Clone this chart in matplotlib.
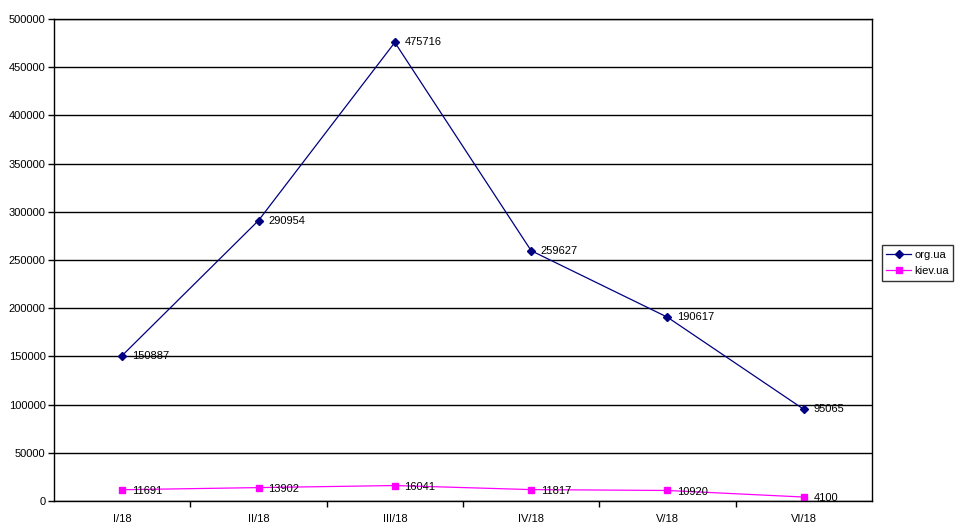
import matplotlib
matplotlib.use("Agg")
import matplotlib.pyplot as plt
from matplotlib.ticker import MultipleLocator

plt.rcParams['font.family'] = ['Liberation Sans', 'DejaVu Sans']

# quarters / data
quarters = ['I/18', 'II/18', 'III/18', 'IV/18', 'V/18', 'VI/18']
org_ua = [150887, 290954, 475716, 259627, 190617, 95065]
kiev_ua = [11691, 13902, 16041, 11817, 10920, 4100]

fig = plt.figure(figsize=(9.59, 5.26), dpi=100)
ax = fig.add_axes([54 / 959, 25 / 526, 818 / 959, 482 / 526])

x = list(range(len(quarters)))
ax.plot(x, org_ua, color='#000080', lw=0.9, marker='D', ms=4, label='org.ua')
ax.plot(x, kiev_ua, color='#FF00FF', lw=0.9, marker='s', ms=5, label='kiev.ua')

for xi, v in zip(x, org_ua):
    ax.annotate(str(v), (xi, v), xytext=(7, 0), textcoords='offset points',
                va='center', ha='left', fontsize=8)
for xi, v in zip(x, kiev_ua):
    ax.annotate(str(v), (xi, v), xytext=(7, -1), textcoords='offset points',
                va='center', ha='left', fontsize=8)

ax.set_xlim(-0.5, len(quarters) - 0.5)
ax.set_ylim(0, 500000)
ax.yaxis.set_major_locator(MultipleLocator(50000))
ax.set_xticks(x)
ax.set_xticklabels(quarters)
ax.set_xticks([i + 0.5 for i in range(len(quarters) - 1)], minor=True)
ax.tick_params(axis='x', which='major', length=0, pad=9, labelsize=8)
ax.tick_params(axis='x', which='minor', length=4, width=1, direction='out')
ax.tick_params(axis='y', length=4, width=1, direction='out', labelsize=8, pad=2)
ax.grid(axis='y', color='black', lw=1)
ax.set_axisbelow(True)
for s in ax.spines.values():
    s.set_linewidth(1)
    s.set_color('black')

leg = ax.legend(loc='center left', bbox_to_anchor=(882 / 959, 0.5), bbox_transform=fig.transFigure,
                fontsize=8, frameon=True, fancybox=False, edgecolor='black',
                handlelength=2.2, borderpad=0.4, borderaxespad=0, labelspacing=0.6,
                handletextpad=0.3)
leg.get_frame().set_linewidth(1)

fig.savefig('out.png', dpi=100)
